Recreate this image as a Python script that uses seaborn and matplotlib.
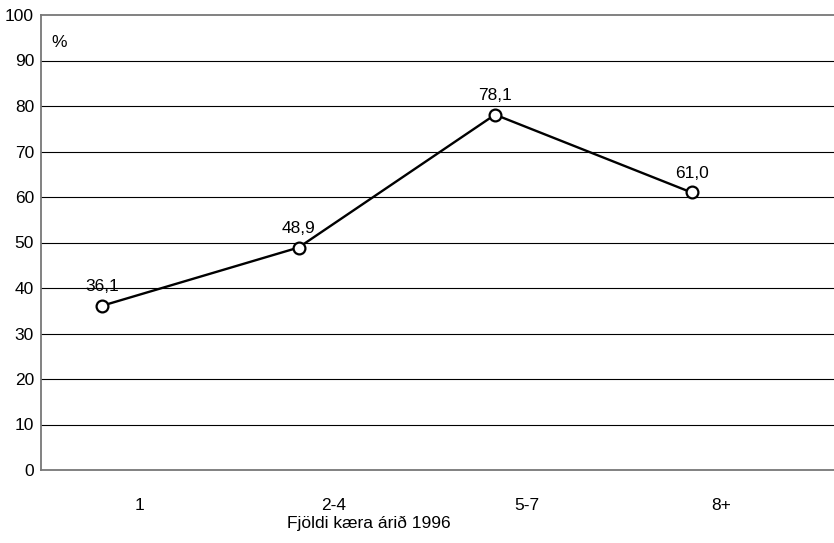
import numpy as np
import pandas as pd
import matplotlib
matplotlib.use("Agg")
import matplotlib.pyplot as plt
import seaborn as sns

# --- gögn ---
categories = ["1", "2-4", "5-7", "8+"]
values = [36.1, 48.9, 78.1, 61.0]
value_labels = ["36,1", "48,9", "78,1", "61,0"]
y_ticks = [0, 10, 20, 30, 40, 50, 60, 70, 80, 90, 100]

sns.set_theme(style="white")
plt.rcParams['font.family'] = ['Liberation Sans', 'DejaVu Sans']
FS = 12.5

fig = plt.figure(figsize=(8.34, 5.43), dpi=100)
ax = fig.add_axes([41 / 834, 73 / 543, 793 / 834, 455 / 543])

# punktarnir sitja aðeins vinstra megin við flokksmerkin
shift = -0.19
df = pd.DataFrame({"x": np.arange(len(categories)) * 1.012 + shift, "y": values})

sns.lineplot(data=df, x="x", y="y", ax=ax, color="black", linewidth=1.7,
             marker="o", markersize=8.5, markerfacecolor="white",
             markeredgecolor="black", markeredgewidth=1.6, zorder=3)

for xv, yv, lab in zip(df["x"], df["y"], value_labels):
    ax.annotate(lab, (xv, yv), xytext=(0, 14), textcoords="offset points",
                ha="center", va="center", fontsize=FS, color="black")

# hnitanet
for t in y_ticks[1:-1]:
    ax.axhline(t, color="black", linewidth=0.8, zorder=1)

ax.set_xlim(-0.505, 3.58)
ax.set_ylim(0, 100)
ax.set_yticks(y_ticks)
ax.set_xticks(range(len(categories)))
ax.set_xticklabels(categories)
ax.tick_params(axis="x", length=0, pad=20, labelsize=FS, colors="black")
ax.tick_params(axis="y", length=0, pad=5, labelsize=FS, colors="black")

for side in ["top", "bottom", "left"]:
    ax.spines[side].set_color("#777777")
    ax.spines[side].set_linewidth(1.3)
ax.spines["right"].set_visible(False)

ax.set_ylabel("")
ax.set_xlabel("Fjöldi kæra árið 1996", fontsize=FS, color="black")
ax.xaxis.set_label_coords(0.414, -0.10)
ax.text(0.013, 0.94, "%", transform=ax.transAxes, fontsize=FS,
        ha="left", va="center", color="black")

fig.savefig("out.png", dpi=100)
